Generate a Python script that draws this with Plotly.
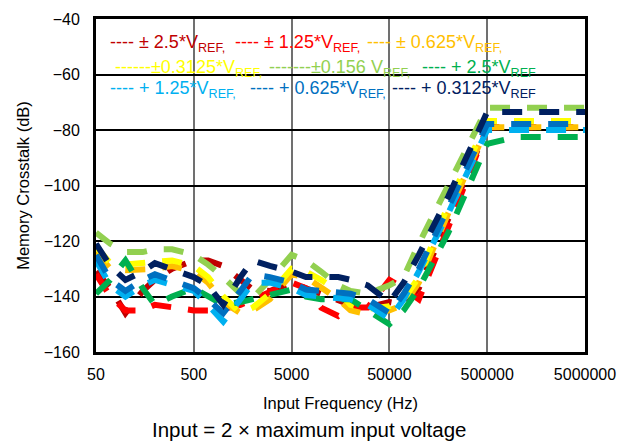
import plotly.graph_objects as go

freq = [50, 70, 100, 150, 200, 300, 500, 700, 1000, 1500, 2000, 3000, 5000, 7000,
        10000, 15000, 20000, 30000, 50000, 70000, 100000, 200000, 500000,
        1000000, 2000000, 5000000]

s_pm2p5 = [-131, -137, -146, -138, -134, -130, -127, -127, -129, -134, -137.5, -138, -135, -137,
           -139, -141, -143, -144, -142, -143, -137, -112, -79, -79, -79, -79]
s_pm1p25 = [-132, -140, -145, -145, -143, -144, -145, -145, -144.5, -143, -141, -138, -135, -137,
            -144, -147, -144, -144, -134, -137, -141, -115, -79, -79, -79, -79]
s_pm0p625 = [-124, -130, -130.5, -130.5, -130, -129, -131, -135, -142, -146, -145, -141, -132, -133,
             -137, -141, -145, -146.5, -145, -143, -135, -110, -79, -79, -79, -79]
s_pm0p3125 = [-122, -128, -128.5, -128, -127.5, -127, -129, -133, -140, -146, -144, -139, -130, -131,
              -134, -138, -143, -144.5, -143.5, -141, -133, -107, -76.8, -76.8, -76.8, -76.8]
s_pm0p156 = [-117, -121, -124, -124, -123, -123, -125, -128.5, -133, -139, -140.5, -134, -125, -127,
             -131, -136, -138, -139, -136, -133, -121, -100, -72, -72, -72, -72]
s_p2p5 = [-139, -134, -127, -137, -143, -140, -137, -140, -143, -142, -141, -139.5, -137.5, -140,
          -141, -141, -141, -145, -150, -145, -137, -117, -85, -82.5, -82.5, -82.5]
s_p1p25 = [-127, -136, -140, -136, -134, -136, -138, -143, -149, -141, -135, -135, -137, -139.5,
           -140, -141, -141, -143, -148, -141, -131, -110, -80, -80, -80, -80]
s_p0p625 = [-125, -134, -138, -134, -132, -134, -137, -141, -146, -138, -132, -133, -135, -137.5,
            -138, -139, -139, -141, -146, -139, -130, -108, -77.8, -77.8, -77.8, -77.8]
s_p0p3125 = [-121, -129, -134, -131, -128, -130, -133, -136, -143, -133, -127, -129, -131, -133,
             -133, -133, -134, -136, -142, -135, -125, -104, -73.5, -73.5, -73.5, -73.5]

series = [s_pm2p5, s_pm1p25, s_pm0p625, s_pm0p3125, s_pm0p156,
          s_p2p5, s_p1p25, s_p0p625, s_p0p3125]
names = ["± 2.5*VREF", "± 1.25*VREF", "± 0.625*VREF", "±0.3125*VREF", "±0.156 VREF",
         "+ 2.5*VREF", "+ 1.25*VREF", "+ 0.625*VREF", "+ 0.3125*VREF"]
colors = ["#C00000", "#FF0000", "#FFC000", "#FFFF00", "#92D050",
          "#00B050", "#00B0F0", "#0070C0", "#002060"]

xtick_vals = [50, 500, 5000, 50000, 500000, 5000000]
xtick_text = ["50", "500", "5000", "50000", "500000", "5000000"]
ytick_vals = [-160, -140, -120, -100, -80, -60, -40]

legend_rows = [
    [("---- ± 2.5*V<sub>REF,</sub>", 0), ("---- ± 1.25*V<sub>REF,</sub>", 1), ("---- ± 0.625*V<sub>REF,</sub>", 2)],
    [("------±0.3125*V<sub>REF,</sub>", 3), ("-------±0.156 V<sub>REF,</sub>", 4), ("---- + 2.5*V<sub>REF</sub>", 5)],
    [("---- + 1.25*V<sub>REF,</sub>", 6), ("---- + 0.625*V<sub>REF,</sub>", 7), ("---- + 0.3125*V<sub>REF</sub>", 8)],
]
# positions in screenshot pixels
legend_x = [[108, 233, 365], [113, 267, 420], [108, 248, 390]]
legend_y = [44, 68, 90]

OFF = 8  # page body offset
W, H = 629 - OFF, 444 - OFF
L, R, T, B = 96 - OFF, 585 - OFF, 19 - OFF, 352 - OFF

fig = go.Figure()
for ys, nm, c in zip(series, names, colors):
    fig.add_trace(go.Scatter(x=freq, y=ys, mode="lines", name=nm,
                             line=dict(color=c, width=6, dash="20px,17px"),
                             showlegend=False))

def px_to_paper(px, py):
    px -= OFF
    py -= OFF
    return (px - L) / (R - L), (B - py) / (B - T)

fig.add_shape(type="rect", xref="paper", yref="paper",
              x0=px_to_paper(104, 0)[0], x1=px_to_paper(540, 0)[0],
              y0=px_to_paper(0, 101)[1], y1=px_to_paper(0, 27)[1],
              fillcolor="white", line=dict(width=0), layer="between")

for r, row in enumerate(legend_rows):
    for k, (txt, ci) in enumerate(row):
        xp, yp = px_to_paper(legend_x[r][k], legend_y[r])
        fig.add_annotation(x=xp, y=yp, xref="paper", yref="paper",
                           text=txt, showarrow=False, xanchor="left", yanchor="middle",
                           font=dict(color=colors[ci], size=18, family="Liberation Sans, Arial"))

cx, cy = px_to_paper(309, 429)
fig.add_annotation(x=cx, y=cy, xref="paper", yref="paper",
                   text="Input = 2 × maximum input voltage", showarrow=False,
                   xanchor="center", yanchor="middle",
                   font=dict(size=20.5, color="black", family="Liberation Sans, Arial"))

fig.update_layout(
    width=W, height=H,
    margin=dict(l=L, r=W - R, t=T, b=H - B, autoexpand=False),
    paper_bgcolor="white", plot_bgcolor="white",
    font=dict(family="Liberation Sans, Arial", color="black", size=16),
    xaxis=dict(type="log", range=[1.69897, 6.69897], tickvals=xtick_vals, ticktext=xtick_text,
               showgrid=True, gridcolor="#707070", gridwidth=2,
               showline=True, linecolor="black", linewidth=3, mirror=True,
               ticks="", tickfont=dict(size=16), ticklabelstandoff=6, automargin=False,
               title=dict(text="Input Frequency (Hz)", font=dict(size=16.5), standoff=16),
               zeroline=False),
    yaxis=dict(range=[-160, -40], tickvals=ytick_vals,
               showgrid=True, gridcolor="black", gridwidth=1.5,
               showline=True, linecolor="black", linewidth=3, mirror=True,
               ticks="", tickfont=dict(size=16), ticklabelstandoff=10, automargin=False,
               title=dict(text="Memory Crosstalk (dB)", font=dict(size=16.5), standoff=10),
               zeroline=False),
)

fig.write_html("out.html")
